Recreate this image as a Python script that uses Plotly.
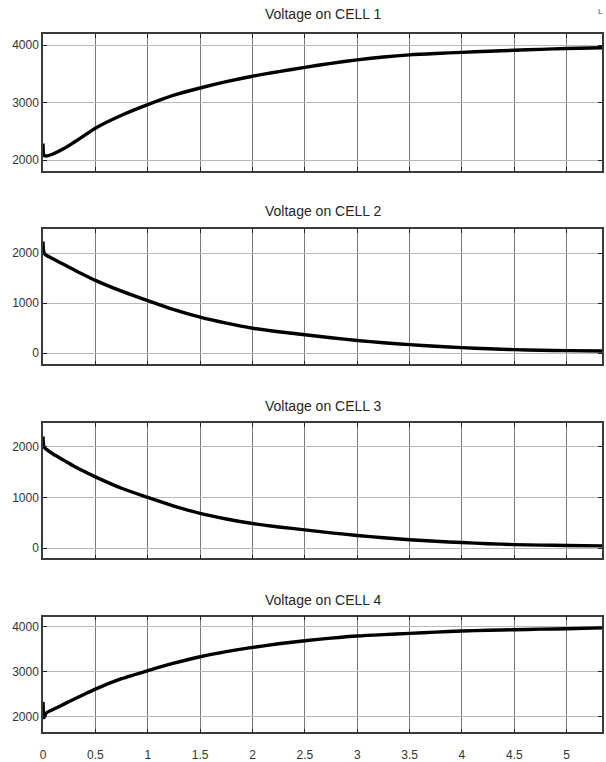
import plotly.graph_objects as go
from plotly.subplots import make_subplots

# ---- data ----
t = [0, 0.01, 0.03, 0.1, 0.2, 0.3, 0.4, 0.5, 0.75, 1.0, 1.25, 1.5, 1.75, 2.0,
     2.25, 2.5, 2.75, 3.0, 3.25, 3.5, 3.75, 4.0, 4.25, 4.5, 4.75, 5.0, 5.34]

cell1 = [2290, 2080, 2070, 2110, 2200, 2315, 2435, 2555, 2780, 2965, 3130, 3255,
         3365, 3460, 3540, 3615, 3685, 3745, 3795, 3832, 3856, 3875, 3895, 3912,
         3928, 3942, 3955]
cell2 = [2230, 2000, 1960, 1880, 1770, 1660, 1555, 1455, 1240, 1050, 870, 720,
         600, 500, 430, 370, 310, 255, 210, 172, 140, 113, 90, 72, 60, 52, 45]
cell3 = [2200, 1990, 1950, 1850, 1730, 1610, 1505, 1405, 1180, 1000, 830, 685,
         575, 485, 418, 360, 302, 250, 205, 166, 135, 110, 88, 70, 60, 52, 45]
cell4 = [2330, 1980, 2080, 2165, 2280, 2395, 2505, 2615, 2845, 3025, 3190, 3333,
         3445, 3540, 3620, 3689, 3745, 3793, 3825, 3852, 3880, 3904, 3920, 3933,
         3945, 3955, 3975]

titles = ["Voltage on CELL 1", "Voltage on CELL 2", "Voltage on CELL 3", "Voltage on CELL 4"]
series = [cell1, cell2, cell3, cell4]
y_ranges = [[1810, 4190], [-220, 2480], [-200, 2460], [1655, 4222]]
y_ticks = [[2000, 3000, 4000], [0, 1000, 2000], [0, 1000, 2000], [2000, 3000, 4000]]
x_ticks = [0, 0.5, 1, 1.5, 2, 2.5, 3, 3.5, 4, 4.5, 5]
x_tick_text = ["0", "0.5", "1", "1.5", "2", "2.5", "3", "3.5", "4", "4.5", "5"]

# ---- layout geometry (pixels) ----
W, H = 606, 762
ML, MR = 43, 4
panel_top = [34.3, 229, 423.3, 616.7]
panel_bot = [171, 364.3, 558.3, 732.3]
title_y = [14, 211, 406, 600]

FONT = "Liberation Sans, Arial, sans-serif"

fig = make_subplots(rows=4, cols=1, shared_xaxes=False)

for i in range(4):
    fig.add_trace(go.Scatter(x=t, y=series[i], mode="lines",
                             line=dict(color="black", width=3.4, shape="spline",
                                       smoothing=0.7),
                             showlegend=False, hoverinfo="skip"),
                  row=i + 1, col=1)

annotations = []
for i in range(4):
    ax = "xaxis" if i == 0 else f"xaxis{i+1}"
    ay = "yaxis" if i == 0 else f"yaxis{i+1}"
    d0 = (H - panel_bot[i]) / H
    d1 = (H - panel_top[i]) / H
    fig.layout[ay].update(domain=[d0, d1], range=y_ranges[i], tickvals=y_ticks[i],
                          showgrid=True, gridcolor="#b8b8b8", gridwidth=1.4,
                          zeroline=False, showline=True, linecolor="#3a3a3a",
                          linewidth=1.5, mirror="ticks", ticks="inside", ticklen=4,
                          tickcolor="#222222", tickwidth=1.2,
                          tickfont=dict(family=FONT, size=12, color="#333333"))
    fig.layout[ax].update(domain=[0, 1], range=[0, 5.337], tickvals=x_ticks,
                          ticktext=x_tick_text,
                          showgrid=True, gridcolor="#7a7a7a", gridwidth=1,
                          zeroline=False, showline=True, linecolor="#3a3a3a",
                          linewidth=1.5, mirror="ticks", ticks="inside", ticklen=4,
                          tickcolor="#222222", tickwidth=1.2,
                          showticklabels=(i == 3), ticklabelstandoff=11,
                          tickfont=dict(family=FONT, size=12, color="#333333"))
    annotations.append(dict(text=titles[i], xref="paper", yref="paper",
                            x=0.5, y=(H - title_y[i]) / H, xanchor="center",
                            yanchor="middle", showarrow=False,
                            font=dict(family=FONT, size=14, color="#262626")))

annotations.append(dict(text="L", xref="paper", yref="paper",
                        x=(605 - ML) / (W - ML - MR), y=(H - 12) / H,
                        xanchor="right", yanchor="middle", showarrow=False,
                        font=dict(family=FONT, size=8, color="#444444")))

fig.update_layout(width=W, height=H, margin=dict(l=ML, r=MR, t=0, b=0),
                  plot_bgcolor="white", paper_bgcolor="white",
                  annotations=annotations)

fig.write_html("out.html", config={"displayModeBar": False},
               post_script="document.body.style.margin='0';document.body.style.overflow='hidden';")
